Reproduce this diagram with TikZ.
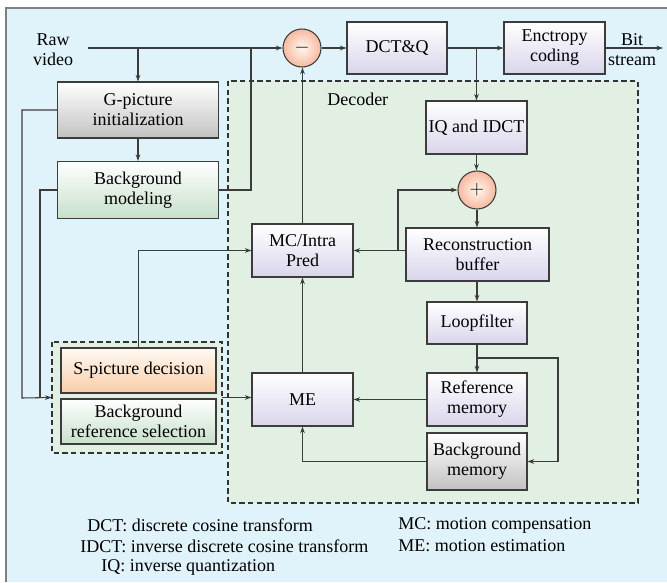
\documentclass[tikz,border=0pt]{standalone}
\usepackage{fontspec}
\setmainfont{Liberation Serif}
\usetikzlibrary{arrows.meta,positioning,shapes}
\definecolor{skyfill}{HTML}{E0F2FA}
\definecolor{decfill}{HTML}{E2F0E4}
\definecolor{linegray}{HTML}{3C3C3C}
\definecolor{lavender}{HTML}{D9D5EB}
\definecolor{boxgray}{HTML}{C2C2C2}
\definecolor{boxgreen}{HTML}{C6E0CA}
\definecolor{boxorange}{HTML}{F8CDA6}
\definecolor{circfill}{HTML}{F7B9A0}
\tikzset{
    raw box/.style={rectangle, draw=linegray, line width=0.8pt, align=center, inner sep=1pt,
        font=\fontsize{13.5}{15}\selectfont},
    box purple/.style={raw box, top color=white, bottom color=lavender},
    box gray/.style={raw box, top color=white, bottom color=boxgray},
    box green/.style={raw box, top color=white, bottom color=boxgreen},
    box orange/.style={raw box, top color=orange!4, bottom color=boxorange},
    sum node/.style={circle, draw=linegray, line width=0.8pt, minimum size=28.5pt, inner sep=0pt,
        inner color=orange!6, outer color=circfill, font=\Large},
    plain text/.style={inner sep=0pt, align=center, font=\fontsize{13.5}{15}\selectfont},
    group box/.style={draw=black!80, line width=0.8pt, dash pattern=on 4pt off 2.5pt, fill=decfill}
}
\begin{document}
\begin{tikzpicture}[x=0.75pt,y=-0.75pt,
    >={Stealth[length=5pt,width=3.5pt]}]
    \useasboundingbox (0,0) rectangle (667,582);
    \fill[skyfill] (6,8) rectangle (667,582);
    \draw[gray, line width=1.2pt] (667,8) -- (6,8) -- (6,582);
    % dashed areas
    \draw[group box] (228,81) rectangle (638,503);
    \node[plain text, anchor=west] (declabel) at (327,99) {Decoder};
    \draw[group box] (52,342) rectangle (222,453);
    \node[inner sep=0pt, minimum width=170*0.75pt, minimum height=111*0.75pt] (group) at (137,397.5) {};
    % encoder side
    \node[plain text] (raw) at (53,50) {Raw\\video};
    \coordinate (rawin) at (88,48);
    \node[sum node] (minus) at (302,48) {$-$};
    \node[box purple, minimum width=100*0.75pt, minimum height=52*0.75pt] (dctq) at (397,48) {DCT\&Q};
    \node[box purple, minimum width=101*0.75pt, minimum height=52*0.75pt] (ent) at (554.5,48) {Enctropy\\coding};
    \node[plain text] (bit) at (632,50) {Bit\\stream};
    \coordinate (bitout) at (663,48);
    \node[box gray, minimum width=161*0.75pt, minimum height=56*0.75pt] (gpic) at (138,110) {G-picture\\initialization};
    \node[box green, minimum width=161*0.75pt, minimum height=57*0.75pt] (bgmod) at (138,190) {Background\\modeling};
    \node[box orange, minimum width=155*0.75pt, minimum height=45*0.75pt] (spic) at (138.5,370.5) {S-picture decision};
    \node[box green, minimum width=155*0.75pt, minimum height=45*0.75pt] (bgref) at (138.5,421.5) {Background\\reference selection};
    % decoder
    \node[box purple, minimum width=101*0.75pt, minimum height=53*0.75pt] (iq) at (476.5,127.5) {IQ and IDCT};
    \node[sum node] (plus) at (477,190) {$+$};
    \node[box purple, minimum width=143*0.75pt, minimum height=53*0.75pt] (recon) at (477.5,254.5) {Reconstruction\\buffer};
    \node[box purple, minimum width=101*0.75pt, minimum height=53*0.75pt] (mc) at (302.5,250.5) {MC/Intra\\Pred};
    \node[box purple, minimum width=100*0.75pt, minimum height=42*0.75pt] (loop) at (477,323) {Loopfilter};
    \node[box purple, minimum width=100*0.75pt, minimum height=53*0.75pt] (refm) at (477,399.5) {Reference\\memory};
    \node[box purple, minimum width=101*0.75pt, minimum height=53*0.75pt] (me) at (302.5,399.5) {ME};
    \node[box gray, minimum width=100*0.75pt, minimum height=57*0.75pt] (bgm) at (477,461.5) {Background\\memory};
    % junction points
    \coordinate (jbg) at (251,48);
    \coordinate (lft1) at (22,398);
    \coordinate (lft2) at (40,398);
    \coordinate (rb) at (398,250.5);
    \coordinate (lb) at (477,358);
    \coordinate (rt) at (558,358);
    % connectors
    \begin{scope}[every path/.style={draw=linegray, line width=0.8pt}]
    \draw[->] (rawin) -- (minus.west);
    \draw[->] (rawin -| gpic.north) -- (gpic.north);
    \draw[->] (gpic) -- (bgmod);
    \draw (bgmod.east) -| (jbg);
    \draw[->] (gpic.west) -| (lft1) -- (group.west);
    \draw (bgmod.west) -| (lft2);
    \draw[->] (spic.north) |- (mc.west);
    \draw[->] (group.east) -- (group.east -| me.west);
    \draw[->] (mc.north) -- (mc.north |- minus.south);
    \draw[->] (me) -- (mc);
    \draw[->] (minus) -- (dctq);
    \draw[->] (dctq) -- (ent);
    \draw[->] (dctq.east -| iq.north) -- (iq.north);
    \draw[->] (ent.east) -- (bitout);
    \draw[->] (iq.south) -- (iq.south |- plus.north);
    \draw[->] (plus.south) -- (plus.south |- recon.north);
    \draw[->] (recon.west |- mc.east) -- (mc.east);
    \draw[->] (rb) |- (plus.west);
    \draw[->] (recon.south -| loop.north) -- (loop.north);
    \draw[->] (loop) -- (refm);
    \draw[->] (lb) -- (rt) |- (bgm.east);
    \draw[->] (refm.west) -- (me.east);
    \draw[->] (bgm.west) -| (me.south);
    \end{scope}
    % legend
    \node[plain text, anchor=west] (leg1) at (87,525) {DCT: discrete cosine transform};
    \node[plain text, anchor=west] (leg2) at (80,546) {IDCT: inverse discrete cosine transform};
    \node[plain text, anchor=west] (leg3) at (101,567) {IQ: inverse quantization};
    \node[plain text, anchor=west] (leg4) at (398,525) {MC: motion compensation};
    \node[plain text, anchor=west] (leg5) at (398,546) {ME: motion estimation};
\end{tikzpicture}
\end{document}
